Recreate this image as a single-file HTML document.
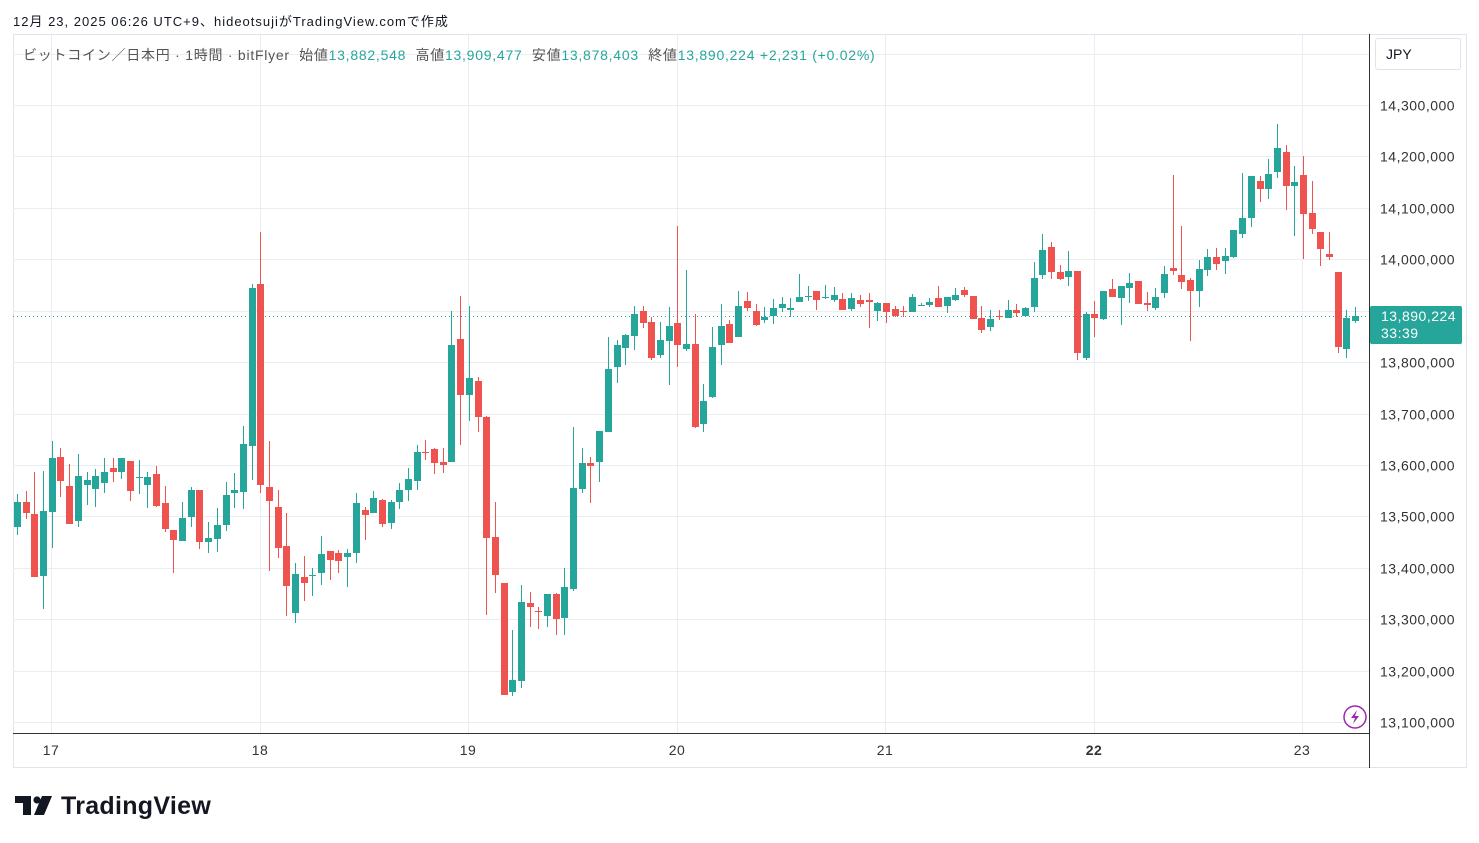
<!DOCTYPE html>
<html><head><meta charset="utf-8">
<style>
html,body{margin:0;padding:0;background:#fff;width:1479px;height:843px;overflow:hidden;font-family:"Liberation Sans","Noto Sans CJK JP",sans-serif;}
.t{position:absolute;white-space:nowrap;}
</style></head><body>
<div class="t" style="left:13px;top:11px;font-size:13px;color:#131722;letter-spacing:1px;">12月 23, 2025 06:26 UTC+9、hideotsujiがTradingView.comで作成</div>
<svg id="c" width="1479" height="843" style="position:absolute;left:0;top:0;" xmlns="http://www.w3.org/2000/svg"></svg>
<div class="t" style="left:23px;top:45px;font-size:14px;color:#555;letter-spacing:0.75px;">ビットコイン／日本円 · 1時間 · bitFlyer&nbsp; 始値<span style="color:#26a69a">13,882,548</span>&nbsp; 高値<span style="color:#26a69a">13,909,477</span>&nbsp; 安値<span style="color:#26a69a">13,878,403</span>&nbsp; 終値<span style="color:#26a69a">13,890,224</span> <span style="color:#26a69a">+2,231 (+0.02%)</span></div>
<div class="t" style="left:1375px;top:38px;width:86px;height:32px;border:1px solid #e0e3eb;border-radius:3px;box-sizing:border-box;font-size:14px;color:#131722;line-height:30px;padding-left:10px;">JPY</div>
<div class="t" style="left:1370px;top:306px;width:92px;height:38px;background:#26a69a;border-radius:2px;color:#fff;font-size:14px;line-height:17px;padding:2px 0 0 11px;box-sizing:border-box;letter-spacing:0.5px;">13,890,224<br>33:39</div>
<script>
const s=document.getElementById('c');let h='';
h+='<rect x="13.5" y="34.5" width="1453" height="733" fill="none" stroke="#e0e3eb"/>';
for(let k=0;k<=12;k++){const y=Math.round(105+k*51.42)+0.5;h+=`<line x1="13" x2="1369" y1="${y}" y2="${y}" stroke="#e9eef3"/>`;
 const v=14300000-k*100000;const str=v.toLocaleString('en-US');
 h+=`<text x="1380" y="${y+5}" font-size="14" fill="#333" letter-spacing="0.5" font-family="Liberation Sans,sans-serif">${str}</text>`;}
h+='<line x1="13" x2="1369" y1="54.5" y2="54.5" stroke="#e9eef3"/>';
const days=[[51,'17'],[260,'18'],[468,'19'],[677,'20'],[885,'21'],[1094,'22'],[1302,'23']];
for(const [x,l] of days){h+=`<line x1="${x+0.5}" x2="${x+0.5}" y1="35" y2="733" stroke="#e9eef3"/>`;
 h+=`<text x="${x}" y="755" text-anchor="middle" font-size="14" fill="#333" letter-spacing="0.5" ${l=='22'?'font-weight="bold"':''} font-family="Liberation Sans,sans-serif">${l}</text>`;}
h+='<line x1="1369.5" x2="1369.5" y1="34" y2="768" stroke="#333"/>';
h+='<line x1="13" x2="1369" y1="733.5" y2="733.5" stroke="#333"/>';
h+='<line x1="13" x2="1369" y1="316.5" y2="316.5" stroke="#26a69a" stroke-dasharray="1 3"/>';
const d=`g 502 527 494 535
r 502 513 491 519
r 514 577 472 577
g 511 576 471 609
g 458 512 441 548
r 457 481 448 497
r 486 524 464 524
g 476 521 454 527
g 480 485 472 505
g 476 489 469 507
g 472 483 458 493
r 468 472 458 482
g 458 472 458 479
r 461 491 461 501
g 477 478 460 494
g 477 485 472 508
r 474 506 466 507
r 503 529 486 532
r 530 540 530 573
g 518 541 502 541
g 490 517 487 527
r 490 542 490 549
g 538 542 522 553
g 525 539 508 552
g 495 525 482 531
g 490 493 473 508
g 444 492 426 509
g 288 446 284 480
r 284 485 232 493
r 487 501 441 571
r 507 548 490 558
r 546 586 513 616
g 574 613 563 623
r 577 583 556 601
g 575 576 568 596
g 554 573 536 585
r 551 560 551 580
r 553 561 550 573
g 553 557 549 587
g 503 553 493 563
r 510 515 507 540
g 498 513 491 513
r 500 524 499 527
g 502 523 500 529
g 490 502 483 509
g 479 490 468 501
g 452 481 445 490
r 452 453 440 460
r 449 463 448 474
r 462 465 448 473
g 345 462 311 462
r 339 395 296 445
g 378 395 306 421
r 381 417 377 432
r 417 538 416 615
r 537 575 502 593
r 583 695 583 695
g 680 692 630 696
g 602 681 585 688
r 603 607 592 627
r 611 612 607 629
g 594 616 594 627
r 594 619 593 635
g 587 618 568 635
g 488 589 427 591
g 463 489 448 493
r 463 466 457 503
g 431 462 431 482
g 369 432 337 432
g 345 367 340 383
g 335 348 334 365
g 314 336 306 350
r 311 323 306 328
r 322 358 317 360
g 340 355 322 358
g 326 341 307 385
r 323 345 226 367
g 344 349 270 351
r 344 427 314 428
g 401 424 384 432
g 347 397 327 398
g 326 345 304 365
r 324 343 320 343
g 306 337 291 337
r 301 308 292 311
r 311 325 304 326
g 317 320 307 323
g 308 316 299 324
g 304 308 297 312
g 308 310 298 317
g 297 302 274 302
g 296 297 286 301
r 291 300 291 310
g 297 298 285 299
g 295 300 287 302
r 299 310 293 310
g 298 309 293 311
r 300 304 295 307
r 300 302 293 328
g 303 311 302 321
r 303 312 303 323
r 309 316 306 317
r 311 312 306 317
g 297 312 294 312
g 305 306 303 306
g 302 305 298 307
r 298 307 286 307
g 297 306 297 313
g 295 300 288 301
r 290 295 287 297
r 296 319 296 319
r 318 330 306 333
g 319 327 310 331
r 316 317 310 320
g 310 318 300 318
r 310 313 304 317
g 308 316 307 316
g 278 307 262 312
g 250 275 234 279
r 247 272 242 279
r 272 279 265 280
g 271 277 251 286
r 271 353 271 360
g 314 358 312 360
r 314 318 301 337
g 291 319 291 320
r 289 297 279 297
g 286 298 286 325
g 283 288 273 303
r 281 304 281 304
r 303 305 292 311
g 297 308 288 310
g 274 293 266 298
r 268 271 175 275
r 275 282 226 289
r 280 291 278 341
g 269 291 260 307
g 257 270 249 276
r 257 264 248 270
g 256 261 248 274
g 230 257 230 258
g 218 234 173 238
g 176 218 176 227
r 181 189 176 202
g 174 189 159 199
g 148 172 124 178
r 152 186 145 210
g 182 186 166 236
r 175 214 156 259
r 213 229 181 234
r 232 249 232 266
r 254 257 232 260
r 272 347 272 353
g 318 349 310 358
g 316 321 307 323`.split('\n');
d.forEach((line,i)=>{const p=line.trim().split(' ');const col=p[0]=='g'?'#26a69a':'#ef5350';
 const bt=+p[1],bb=Math.max(+p[2],+p[1]+1),wt=+p[3],wb=+p[4];const cx=Math.round(17+i*8.689);
 h+=`<rect x="${cx}" y="${wt}" width="1" height="${Math.max(wb-wt,1)}" fill="${col}"/>`;
 h+=`<rect x="${cx-3}" y="${bt}" width="7" height="${bb-bt}" fill="${col}"/>`;});
h+='<circle cx="1355" cy="717" r="11" fill="#fff" stroke="#9c27b0" stroke-width="1.5"/><path d="M1357 710 L1351 718 L1355 718 L1353 724 L1359 716 L1355 716 Z" fill="#9c27b0"/>';
h+='<path d="M15 796 H31 V815 H23 V803 H15 Z" fill="#131722"/><circle cx="37" cy="800" r="3.6" fill="#131722"/><path d="M42 796 H52 L44 815 H34 Z" fill="#131722"/>';
h+='<text x="61" y="814" font-size="25" font-weight="bold" letter-spacing="0.3" fill="#131722" font-family="Liberation Sans,sans-serif">TradingView</text>';
s.innerHTML=h;
</script>
</body></html>
